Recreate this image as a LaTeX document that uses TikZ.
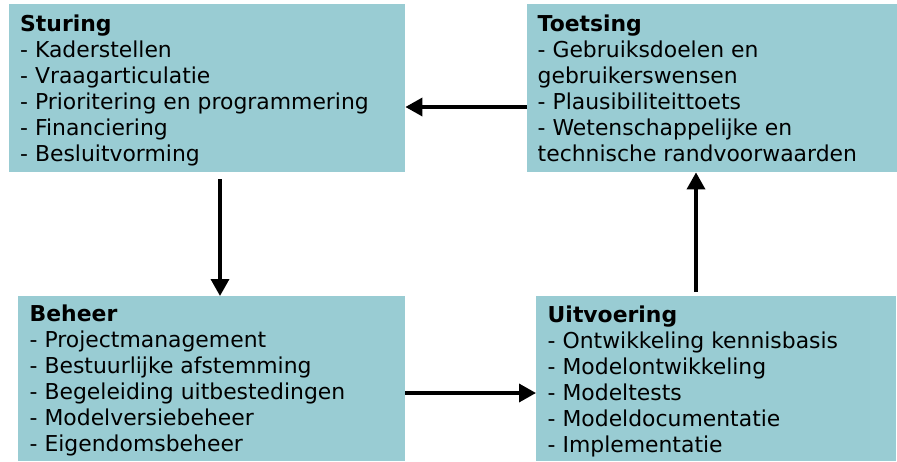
\documentclass[tikz,border=0pt]{standalone}
\usepackage{fontspec}
\setmainfont{DejaVu Sans}
\usetikzlibrary{arrows.meta}
\definecolor{boxfill}{RGB}{153,204,211}
\newcommand{\toprule}{\rule{0pt}{20pt}}
\tikzset{
  box/.style={fill=boxfill, draw=none, anchor=north west, inner sep=0pt, minimum width=#1},
  txt/.style={anchor=north west, inner sep=0pt, align=left, font=\fontsize{21.9}{26}\selectfont},
  flow/.style={line width=3.5pt, -{Triangle[length=17pt,width=18pt]}}
}
\begin{document}
\begin{tikzpicture}[x=1pt,y=-1pt]
\useasboundingbox (0,0) rectangle (897,461);
\node[box=396.5, minimum height=168.5] (s) at (8.5,3.5) {};
\node[box=370, minimum height=168.5] (t) at (527,3.5) {};
\node[box=387.5, minimum height=165] (b) at (17.5,296) {};
\node[box=360, minimum height=165] (u) at (536,296) {};

\node[txt] (st) at (20,11.3) {\toprule\textbf{Sturing}\\- Kaderstellen\\- Vraagarticulatie\\- Prioritering en programmering\\- Financiering\\- Besluitvorming};
\node[txt] (tt) at (537.5,11.5) {\toprule\textbf{Toetsing}\\- Gebruiksdoelen en\\gebruikerswensen\\- Plausibiliteittoets\\- Wetenschappelijke en\\technische randvoorwaarden};
\node[txt] (bt) at (29.5,301.7) {\toprule\textbf{Beheer}\\- Projectmanagement\\- Bestuurlijke afstemming\\- Begeleiding uitbestedingen\\- Modelversiebeheer\\- Eigendomsbeheer};
\node[txt] (ut) at (547.5,302.7) {\toprule\textbf{Uitvoering}\\- Ontwikkeling kennisbasis\\- Modelontwikkeling\\- Modeltests\\- Modeldocumentatie\\- Implementatie};

\draw[flow] (t.west |- 0,107) -- (s.east |- 0,107);
\draw[flow] ([yshift=-7pt]s.south -| 220,0) -- (b.north -| 220,0);
\draw[flow] (b.east |- 0,393) -- (u.west |- 0,393);
\draw[flow] ([yshift=4pt]u.north -| 696,0) -- (t.south -| 696,0);
\end{tikzpicture}
\end{document}
